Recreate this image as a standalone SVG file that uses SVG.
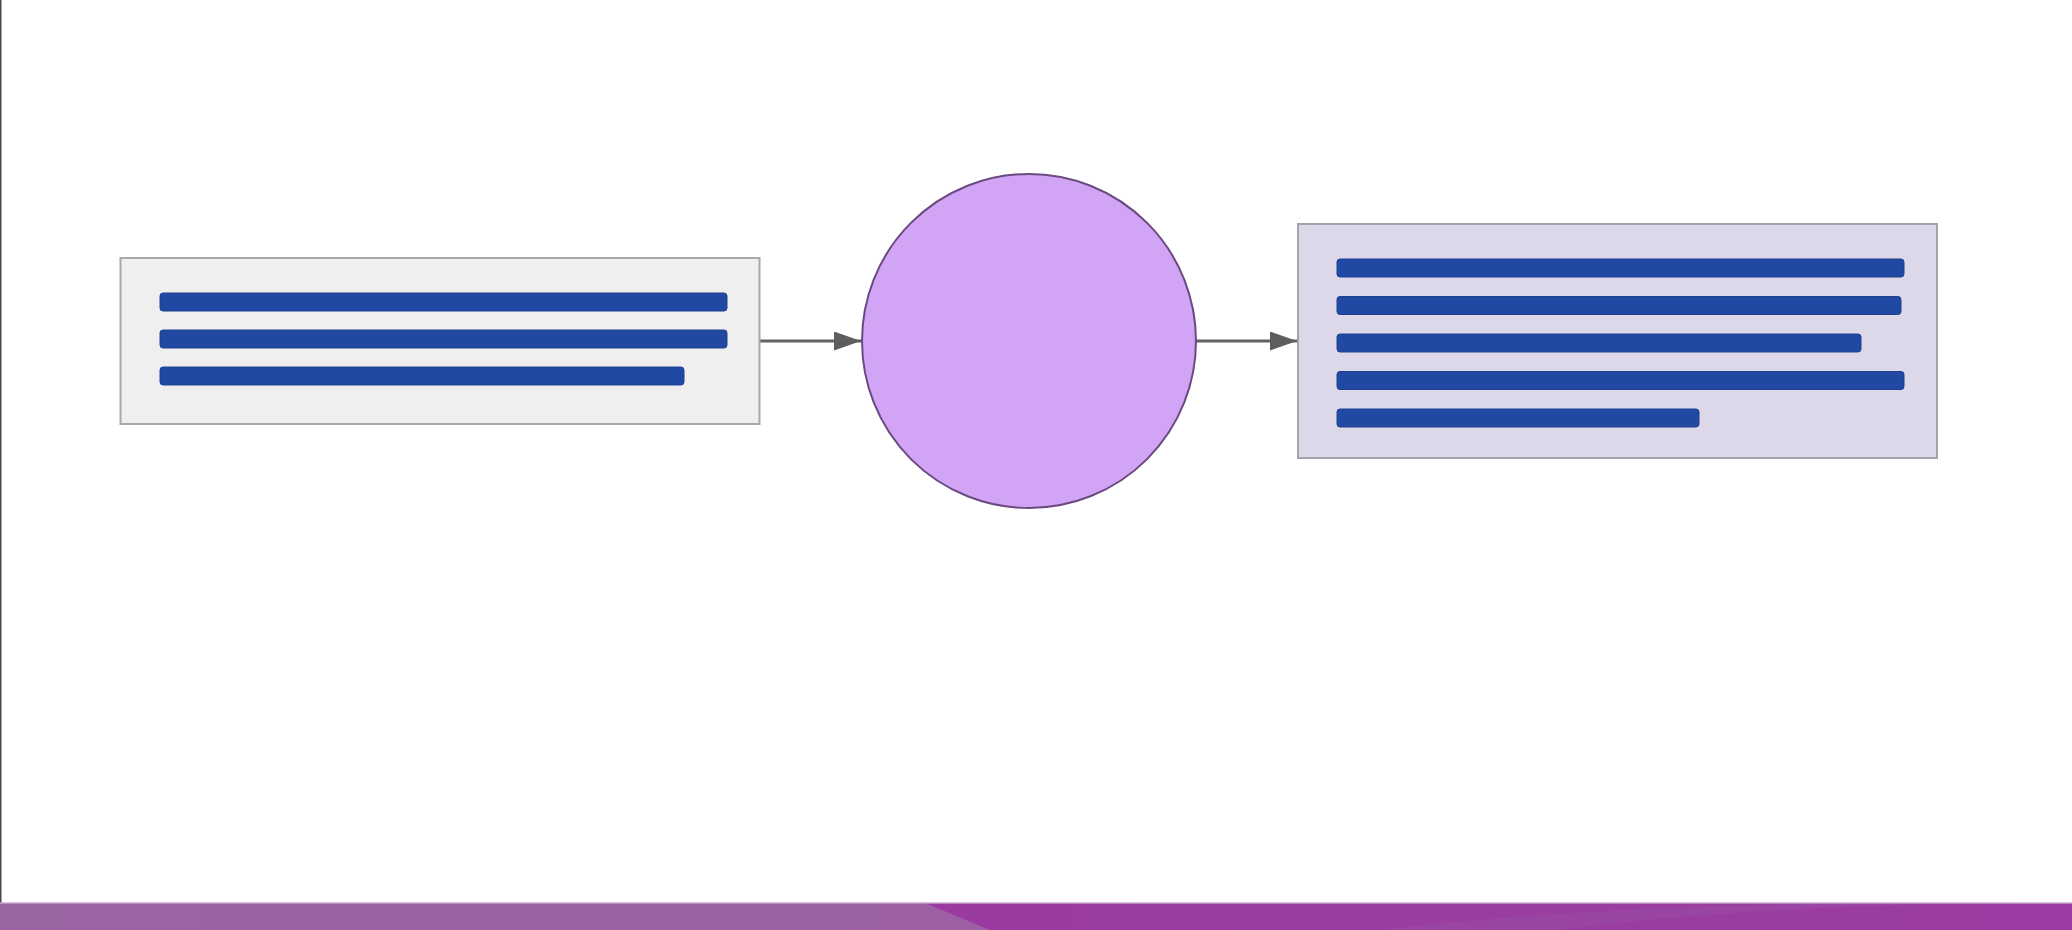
<svg xmlns="http://www.w3.org/2000/svg" width="2072" height="930" viewBox="0 0 2072 930">
  <defs>
    <style>
      .bar { fill: #2149a3; stroke: #1e4290; stroke-width: 1; }
      .conn { stroke: #636363; stroke-width: 3; fill: none; }
    </style>
    <marker id="arrow" viewBox="0 0 27 19" refX="27" refY="9.5" markerWidth="27" markerHeight="19" markerUnits="userSpaceOnUse" orient="auto">
      <path d="M0,0 L27,9.5 L0,19 z" fill="#5e5e5e"/>
    </marker>
    <linearGradient id="bandL" x1="0" y1="0" x2="1" y2="0">
      <stop offset="0" stop-color="#9b64a3"/>
      <stop offset="1" stop-color="#9e5aa6"/>
    </linearGradient>
    <linearGradient id="bandR" x1="0" y1="0" x2="1" y2="0">
      <stop offset="0" stop-color="#9b3aa1"/>
      <stop offset="0.5" stop-color="#993ea0"/>
      <stop offset="1" stop-color="#9c3ba3"/>
    </linearGradient>
  </defs>
  <rect width="2072" height="930" fill="#ffffff"/>
  <rect x="0" y="0" width="1.5" height="903" fill="#4a4a4a"/>

  <g id="band">
    <rect x="0" y="903" width="2072" height="27" fill="url(#bandL)"/>
    <polygon points="925,903 2072,903 2072,930 990,930" fill="url(#bandR)"/>
    <path d="M1380,930 Q1600,905 1870,903 L1960,903 Q1700,910 1560,930 z" fill="#9c4ba5" opacity="0.6"/>
    <rect x="0" y="902" width="2072" height="2" fill="#c9a6cf" opacity="0.7"/>
  </g>

  <g id="connectors">
    <line class="conn" x1="760" y1="341" x2="861" y2="341" marker-end="url(#arrow)"/>
    <line class="conn" x1="1196" y1="341" x2="1297" y2="341" marker-end="url(#arrow)"/>
  </g>

  <g id="input">
    <rect x="120.5" y="258" width="639" height="166" fill="#efefef" stroke="#a9a9a9" stroke-width="2"/>
    <rect class="bar" x="160" y="293" width="567" height="18" rx="3"/>
    <rect class="bar" x="160" y="330" width="567" height="18" rx="3"/>
    <rect class="bar" x="160" y="367" width="524" height="18" rx="3"/>
  </g>

  <g id="process">
    <circle cx="1029" cy="341" r="167" fill="#d1a4f5" stroke="#6b4a80" stroke-width="2"/>
  </g>

  <g id="output">
    <rect x="1298" y="224" width="639" height="234" fill="#dcd8ea" stroke="#a3a1ac" stroke-width="2"/>
    <rect class="bar" x="1337" y="259" width="567" height="18" rx="3"/>
    <rect class="bar" x="1337" y="296.5" width="564" height="18" rx="3"/>
    <rect class="bar" x="1337" y="334" width="524" height="18" rx="3"/>
    <rect class="bar" x="1337" y="371.5" width="567" height="18" rx="3"/>
    <rect class="bar" x="1337" y="409" width="362" height="18" rx="3"/>
  </g>
</svg>
